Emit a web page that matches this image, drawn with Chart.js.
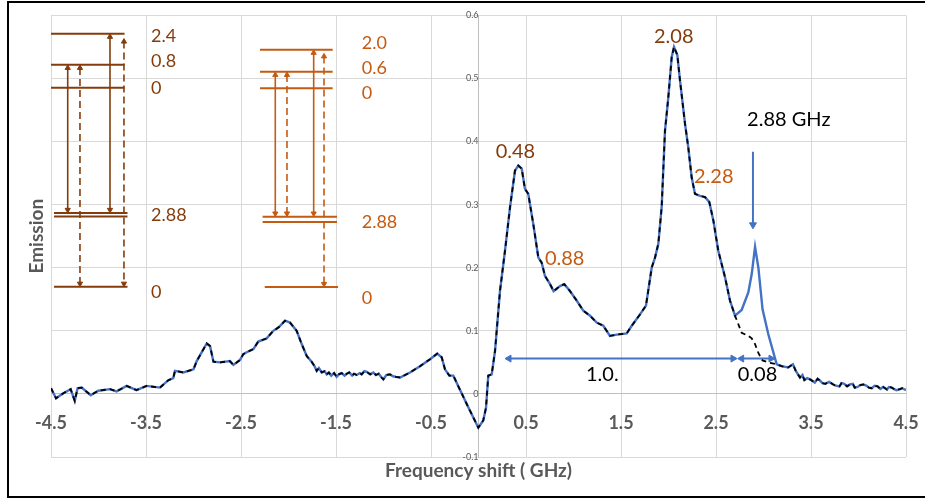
<!DOCTYPE html>
<html>
<head>
<meta charset="utf-8">
<title>Emission vs frequency shift</title>
<script src="https://cdn.jsdelivr.net/npm/chart.js@4.4.1/dist/chart.umd.min.js"></script>
<style>
  body { margin: 0; background: #fff; }
  canvas { display: block; }
</style>
</head>
<body>
<canvas id="spectrum" width="925" height="500"></canvas>
<script>
// measured spectrum (dashed trace): frequency shift in GHz, emission
let freqShift = [
  -4.5, -4.447, -4.37, -4.293, -4.25, -4.22, -4.177, -4.082, -4.002, -3.879,
  -3.81, -3.703, -3.6, -3.495, -3.353, -3.265, -3.213, -3.195, -3.107, -3.0,
  -2.966, -2.861, -2.826, -2.79, -2.72, -2.616, -2.58, -2.51, -2.476, -2.44,
  -2.37, -2.318, -2.23, -2.16, -2.1, -2.037, -1.984, -1.914, -1.861, -1.808,
  -1.756, -1.73, -1.703, -1.68, -1.65, -1.62, -1.598, -1.575, -1.55, -1.52,
  -1.493, -1.47, -1.44, -1.41, -1.387, -1.36, -1.33, -1.31, -1.282, -1.25,
  -1.23, -1.2, -1.177, -1.14, -1.107, -1.08, -1.05, -1.02, -1.002, -0.97,
  -0.932, -0.9, -0.87, -0.826, -0.721, -0.616, -0.51, -0.434, -0.387, -0.353,
  -0.307, -0.265, -0.124, -0.002, 0.05, 0.079, 0.103, 0.139, 0.174, 0.226,
  0.279, 0.332, 0.384, 0.419, 0.455, 0.489, 0.524, 0.577, 0.63, 0.665,
  0.7, 0.753, 0.79, 0.816, 0.858, 0.903, 0.963, 1.033, 1.103, 1.174,
  1.244, 1.314, 1.384, 1.455, 1.56, 1.613, 1.7, 1.763, 1.823, 1.858,
  1.893, 1.928, 1.963, 1.998, 2.034, 2.058, 2.093, 2.121, 2.174, 2.208,
  2.244, 2.279, 2.332, 2.384, 2.43, 2.472, 2.524, 2.595, 2.647, 2.7,
  2.77, 2.84, 2.876, 2.911, 2.946, 2.99, 3.05, 3.139, 3.19, 3.26,
  3.31, 3.34, 3.384, 3.41, 3.43, 3.46, 3.49, 3.52, 3.54, 3.57,
  3.595, 3.62, 3.65, 3.69, 3.735, 3.76, 3.8, 3.82, 3.85, 3.88,
  3.91, 3.94, 3.96, 3.99, 4.02, 4.05, 4.086, 4.11, 4.14, 4.17,
  4.2, 4.23, 4.26, 4.3, 4.32, 4.35, 4.38, 4.4, 4.437, 4.46,
  4.5
];
let emission = [
  0.009, -0.007, 0.001, 0.0075, -0.011, 0.009, 0.010, -0.002, 0.005, 0.0075,
  0.004, 0.0127, 0.006, 0.0127, 0.010, 0.0217, 0.025, 0.0365, 0.034, 0.039,
  0.052, 0.080, 0.076, 0.051, 0.050, 0.052, 0.046, 0.054, 0.063, 0.066,
  0.071, 0.083, 0.088, 0.100, 0.106, 0.116, 0.113, 0.100, 0.079, 0.060,
  0.051, 0.045, 0.0365, 0.041, 0.034, 0.036, 0.031, 0.034, 0.029, 0.033,
  0.027, 0.031, 0.033, 0.029, 0.032, 0.034, 0.029, 0.032, 0.030, 0.033,
  0.031, 0.036, 0.035, 0.031, 0.034, 0.030, 0.032, 0.026, 0.023, 0.030,
  0.031, 0.028, 0.027, 0.026, 0.034, 0.044, 0.055, 0.064, 0.058, 0.039,
  0.029, 0.029, -0.016, -0.0535, -0.042, -0.022, 0.029, 0.031, 0.068, 0.163,
  0.227, 0.296, 0.354, 0.362, 0.357, 0.325, 0.317, 0.269, 0.216, 0.208,
  0.187, 0.174, 0.163, 0.166, 0.171, 0.174, 0.163, 0.148, 0.132, 0.124,
  0.113, 0.108, 0.092, 0.094, 0.096, 0.108, 0.126, 0.140, 0.200, 0.216,
  0.238, 0.296, 0.417, 0.470, 0.534, 0.550, 0.537, 0.497, 0.428, 0.391,
  0.343, 0.317, 0.314, 0.312, 0.304, 0.275, 0.227, 0.185, 0.148, 0.124,
  0.097, 0.092, 0.088, 0.079, 0.065, 0.053, 0.050, 0.047, 0.044, 0.042,
  0.047, 0.0365, 0.026, 0.030, 0.022, 0.025, 0.023, 0.020, 0.018, 0.024,
  0.021, 0.017, 0.016, 0.019, 0.015, 0.013, 0.012, 0.017, 0.016, 0.012,
  0.015, 0.016, 0.010, 0.011, 0.014, 0.015, 0.0127, 0.010, 0.009, 0.013,
  0.012, 0.008, 0.011, 0.007, 0.011, 0.010, 0.007, 0.006, 0.0075, 0.009,
  0.006
];
// solid trace differs only where the 2.88 GHz line sits
let lineShift = [2.7, 2.77, 2.84, 2.876, 2.911, 2.946, 2.99, 3.05, 3.139];
let lineEmission = [0.124, 0.133, 0.161, 0.190, 0.233, 0.200, 0.134, 0.095, 0.047];

let xTicks = [-4.5, -3.5, -2.5, -1.5, -0.5, 0.5, 1.5, 2.5, 3.5, 4.5];

// energy level diagrams: [x from, x to, height]
let levelsBrown = [
  [-4.5, -3.726, 0.571], [-4.5, -3.726, 0.5217], [-4.5, -3.726, 0.4852],
  [-4.468, -3.695, 0.2868], [-4.468, -3.695, 0.2814], [-4.468, -3.695, 0.1698]
];
let levelsOrange = [
  [-2.3, -1.535, 0.5456], [-2.3, -1.535, 0.5106], [-2.3, -1.535, 0.4846],
  [-2.272, -1.489, 0.281], [-2.272, -1.489, 0.2725], [-2.25, -1.479, 0.1694]
];
// transitions: [x, top, bottom, dashed]
let jumpsBrown = [
  [-4.324, 0.5167, 0.2918, false], [-4.195, 0.5167, 0.1748, true],
  [-3.879, 0.566, 0.2918, false], [-3.732, 0.5585, 0.1748, true]
];
let jumpsOrange = [
  [-2.139, 0.5056, 0.286, false], [-2.016, 0.5056, 0.286, true],
  [-1.735, 0.5406, 0.286, false], [-1.626, 0.535, 0.1744, true]
];
let levelTextBrown = ['2.4', '0.8', '0', '2.88', '0'];
let levelTextBrownY = [0.567, 0.527, 0.485, 0.283, 0.162];
let levelTextOrange = ['2.0', '0.6', '0', '2.88', '0'];
let levelTextOrangeY = [0.556, 0.517, 0.476, 0.272, 0.152];

// peak notes: [text, x, y]
let peakNotesBrown = [['0.48', 0.389, 0.384], ['2.08', 2.055, 0.566]];
let peakNotesOrange = [['2.28', 2.476, 0.345], ['0.88', 0.907, 0.214]];
let peakNotesBlack = [['2.88 GHz', 3.266, 0.435], ['1.0.', 1.303, 0.030], ['0.08', 2.937, 0.030]];

// blue pointer at 2.88 GHz and the two spacing arrows
let pointerDrop = [2.889, 0.384, 0.268];
let spacingArrows = [[0.321, 2.679, 0.056], [2.77, 3.079, 0.056]];

const BLUE = '#4472C4';
const BROWN = '#843C0C';
const ORANGE = '#C55A11';
const GREY = '#595959';

function toPoints(xs, ys) {
  return xs.map((x, i) => ({ x: x, y: ys[i] }));
}

let dashedPoints = toPoints(freqShift, emission);
let solidPoints = dashedPoints.filter(p => p.x < lineShift[0])
  .concat(toPoints(lineShift, lineEmission))
  .concat(dashedPoints.filter(p => p.x > lineShift[lineShift.length - 1]));

function segment(x0, y0, x1, y1, color, width) {
  return {
    data: [{ x: x0, y: y0 }, { x: x1, y: y1 }],
    showLine: true, borderColor: color, borderWidth: width,
    pointRadius: 0, order: 2
  };
}

function arrow(x0, y0, x1, y1, color, width, dash, r0, r1) {
  let rot0, rot1;
  if (x0 === x1) { rot0 = y0 > y1 ? 0 : 180; rot1 = y0 > y1 ? 180 : 0; }
  else { rot0 = x0 < x1 ? 270 : 90; rot1 = x0 < x1 ? 90 : 270; }
  return {
    data: [{ x: x0, y: y0 }, { x: x1, y: y1 }],
    showLine: true, borderColor: color, borderWidth: width,
    borderDash: dash ? [7, 4] : [],
    pointStyle: 'triangle', pointRadius: [r0, r1], pointRotation: [rot0, rot1],
    pointBackgroundColor: color, pointBorderColor: color, pointBorderWidth: 1,
    order: 2
  };
}

let datasets = [
  {
    label: 'without line', data: dashedPoints, showLine: true,
    borderColor: '#000', borderWidth: 1.8, borderDash: [5, 4], pointRadius: 0, order: 0
  },
  {
    label: 'with line', data: solidPoints, showLine: true,
    borderColor: BLUE, borderWidth: 2.4, pointRadius: 0, order: 1
  }
];

levelsBrown.forEach(l => datasets.push(segment(l[0], l[2], l[1], l[2], BROWN, 2)));
levelsOrange.forEach(l => datasets.push(segment(l[0], l[2], l[1], l[2], ORANGE, 2)));
jumpsBrown.forEach(j => datasets.push(arrow(j[0], j[1], j[0], j[2], BROWN, 1.6, j[3], 3, 3)));
jumpsOrange.forEach(j => datasets.push(arrow(j[0], j[1], j[0], j[2], ORANGE, 1.6, j[3], 3, 3)));
datasets.push(arrow(pointerDrop[0], pointerDrop[1], pointerDrop[0], pointerDrop[2], BLUE, 2, false, 0, 4));
spacingArrows.forEach(s => datasets.push(arrow(s[0], s[2], s[1], s[2], BLUE, 2, false, 4, 4)));

// text notes, axis titles and the outer frame
const notesPlugin = {
  id: 'notes',
  afterDatasetsDraw(chart) {
    const { ctx, chartArea } = chart;
    const sx = chart.scales.x, sy = chart.scales.y;
    ctx.save();
    ctx.textBaseline = 'middle';

    ctx.font = '18px Lato';
    ctx.textAlign = 'left';
    ctx.fillStyle = BROWN;
    levelTextBrown.forEach((t, i) => ctx.fillText(t, sx.getPixelForValue(-3.447), sy.getPixelForValue(levelTextBrownY[i])));
    ctx.fillStyle = ORANGE;
    levelTextOrange.forEach((t, i) => ctx.fillText(t, sx.getPixelForValue(-1.229), sy.getPixelForValue(levelTextOrangeY[i])));

    ctx.font = '20px Lato';
    ctx.textAlign = 'center';
    const put = (list, color) => {
      ctx.fillStyle = color;
      list.forEach(n => ctx.fillText(n[0], sx.getPixelForValue(n[1]), sy.getPixelForValue(n[2])));
    };
    put(peakNotesBrown, BROWN);
    put(peakNotesOrange, ORANGE);
    put(peakNotesBlack, '#000');

    ctx.fillStyle = GREY;
    ctx.font = 'bold 19px Lato';
    ctx.fillText('Frequency shift ( GHz)', (chartArea.left + chartArea.right) / 2, chartArea.bottom + 14);
    ctx.translate(chartArea.left - 14, (chartArea.top + chartArea.bottom) / 2);
    ctx.rotate(-Math.PI / 2);
    ctx.fillText('Emission', 0, 0);
    ctx.restore();
  },
  afterDraw(chart) {
    const ctx = chart.ctx;
    ctx.save();
    ctx.strokeStyle = '#000';
    ctx.lineWidth = 2;
    ctx.strokeRect(8, 2, 960, 495);
    ctx.restore();
  }
};

new Chart(document.getElementById('spectrum'), {
  type: 'scatter',
  data: { datasets: datasets },
  options: {
    responsive: false,
    animation: false,
    events: [],
    layout: { padding: { left: 51, right: 19, top: 15, bottom: 43 } },
    plugins: { legend: { display: false }, tooltip: { enabled: false } },
    scales: {
      x: {
        type: 'linear', min: -4.5, max: 4.5, position: { y: 0 },
        afterBuildTicks: scale => { scale.ticks = xTicks.map(v => ({ value: v })); },
        // invisible tick marks push the labels down below the zero line
        grid: { color: '#d9d9d9', drawTicks: true, tickLength: 17, tickColor: 'rgba(0,0,0,0)' },
        border: { color: '#bfbfbf' },
        ticks: {
          autoSkip: false, maxRotation: 0, padding: 1, color: GREY,
          font: { family: 'Lato', weight: 'bold', size: 18 },
          callback: v => v.toFixed(1)
        }
      },
      y: {
        type: 'linear', min: -0.1, max: 0.6, position: { x: 0 },
        grid: { color: '#d9d9d9', drawTicks: false },
        border: { color: '#bfbfbf' },
        ticks: {
          stepSize: 0.1, padding: 10, color: GREY,
          font: { family: 'Lato', size: 9 },
          callback: v => String(Math.round(v * 10) / 10)
        }
      }
    }
  },
  plugins: [notesPlugin]
});
</script>
</body>
</html>
